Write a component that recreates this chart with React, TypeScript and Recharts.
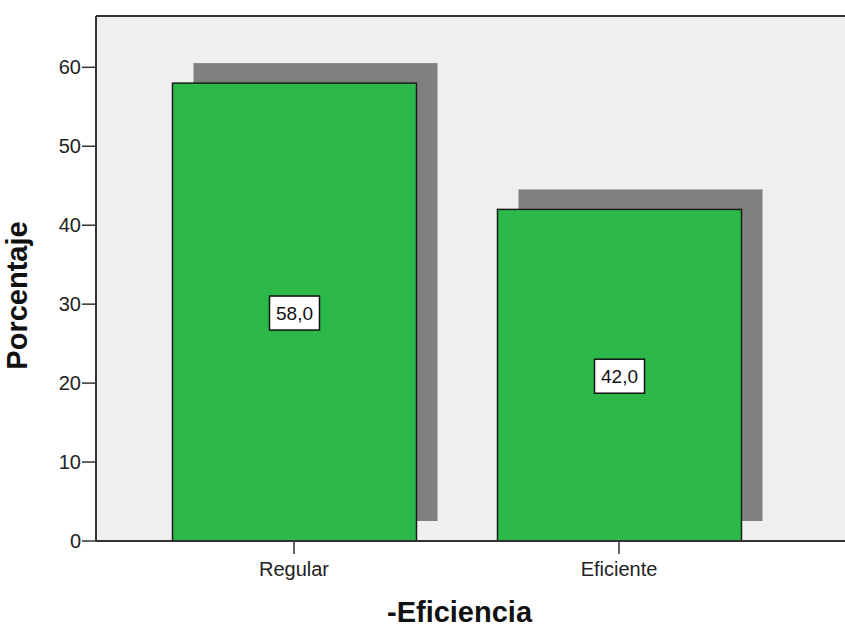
import { Bar, BarChart, CartesianGrid, LabelList, ReferenceLine, XAxis, YAxis } from "recharts";

// Frequency chart, SPSS style: green bars with a grey drop shadow
const categories = ["Regular", "Eficiente"];
const percentages = [58.0, 42.0];
const yTicks = [0, 10, 20, 30, 40, 50, 60];

const data = categories.map((label, i) => ({ label, value: percentages[i] }));

const FONT = '"Liberation Sans", Arial, sans-serif';
const INK = "#222";
const AXIS = "#333";
const GREEN = "#2DB84A";
const SHADOW = "#808080";
const Y_MAX = 66.5;

const fmt = (v: number) => v.toFixed(1).replace(".", ",");

// bar with its shadow drawn behind it, shifted right and up
function ShadowBar(props: any) {
  const { x, y, width, height } = props;
  return (
    <g>
      <rect x={x + 21} y={y - 20} width={width} height={height} fill={SHADOW} />
      <rect x={x} y={y} width={width} height={height} fill={GREEN} stroke="#1c1c1c" strokeWidth={1.5} />
    </g>
  );
}

function BoxLabel(props: any) {
  const { x, y, width, height, value } = props;
  const cx = x + width / 2;
  const cy = y + height / 2;
  return (
    <g>
      <rect x={cx - 25} y={cy - 16} width={50} height={34} fill="#fff" stroke="#111" strokeWidth={1.5} />
      <text x={cx} y={cy + 1} textAnchor="middle" dominantBaseline="central" fontSize={19} fontFamily={FONT} fill="#111">
        {fmt(Number(value))}
      </text>
    </g>
  );
}

export default function App() {
  return (
    <div style={{ position: "absolute", left: 0, top: 0, background: "#fff" }}>
      <BarChart width={845} height={628} data={data} margin={{ top: 16, right: 0, bottom: 0, left: 0 }}>
        <CartesianGrid horizontal={false} vertical={false} fill="#EFEFEF" />
        <XAxis
          dataKey="label"
          height={87}
          padding={{ left: 35.5, right: 63.5 }}
          axisLine={{ stroke: AXIS, strokeWidth: 2 }}
          tickLine={{ stroke: AXIS, strokeWidth: 1.5 }}
          tickSize={13}
          tickMargin={8}
          tick={{ fill: INK, fontSize: 20, fontFamily: FONT }}
          label={{
            value: "-Eficiencia",
            position: "insideBottom",
            dx: -11,
            offset: 6,
            style: { fill: "#111", fontSize: 29, fontWeight: 700, fontFamily: FONT },
          }}
        />
        <YAxis
          width={96}
          domain={[0, Y_MAX]}
          ticks={yTicks}
          axisLine={{ stroke: AXIS, strokeWidth: 2 }}
          tickLine={{ stroke: AXIS, strokeWidth: 1.5 }}
          tickSize={14}
          tickMargin={1}
          tick={{ fill: INK, fontSize: 20, fontFamily: FONT }}
          label={{
            value: "Porcentaje",
            angle: -90,
            position: "insideLeft",
            dx: 12,
            dy: 17,
            style: { fill: "#111", fontSize: 29, fontWeight: 700, fontFamily: FONT, textAnchor: "middle" },
          }}
        />
        <ReferenceLine y={Y_MAX} stroke={AXIS} strokeWidth={2} />
        <Bar dataKey="value" barSize={244} shape={ShadowBar} isAnimationActive={false}>
          <LabelList dataKey="value" content={BoxLabel} />
        </Bar>
      </BarChart>
    </div>
  );
}
